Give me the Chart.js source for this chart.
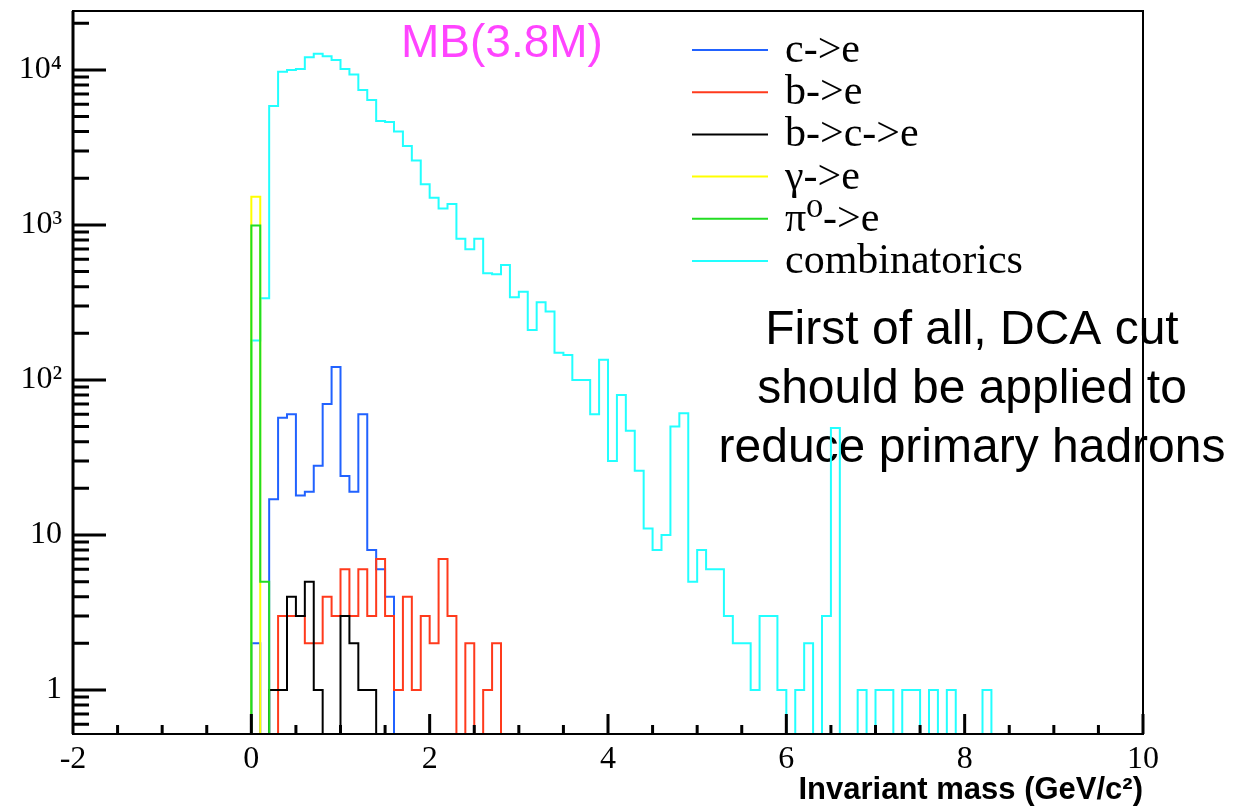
<!DOCTYPE html>
<html>
<head>
<meta charset="utf-8">
<script src="https://cdn.jsdelivr.net/npm/chart.js@4.4.1/dist/chart.umd.min.js"></script>
<style>
  html, body { margin: 0; padding: 0; background: #fff; }
  #wrap { width: 1233px; height: 812px; }
</style>
</head>
<body>
<div id="wrap"><canvas id="chart" width="1233" height="812"></canvas></div>
<script>
// histogram binning: 0.1 GeV/c^2 bins from -2 to 10
const X_MIN = -2;
const X_MAX = 10;
const BIN_WIDTH = 0.1;
const FIRST_FILLED = 0; // arrays below start at the 0 GeV/c^2 bin, lower bins are empty
const Y_MIN = 0.52;
const Y_MAX = 24000;

// bin contents
const charmToE = [2, 0, 17, 57, 60, 18, 19, 28, 70, 121, 24, 19, 60, 8, 6, 4];
const bottomToE = [0, 0, 0, 3, 3, 3, 2, 2, 4, 3, 6, 3, 6, 3, 7, 3, 1, 4, 1, 3, 2, 7, 3, 0, 2, 0, 1, 2];
const bottomToCharmToE = [0, 0, 1, 1, 4, 3, 5, 1, 0, 0, 3, 2, 1, 1];
const gammaToE = [1520];
const pi0ToE = [990, 5];
const combinatorics = [
  180, 337, 5860, 9750, 10000, 10150, 12070, 12740, 12250, 11600,
  10150, 9330, 7430, 6400, 4690, 4620, 4000, 3235, 2600, 1830,
  1500, 1275, 1365, 816, 697, 816, 488, 481, 552, 341,
  371, 210, 317, 276, 150, 145, 100, 100, 60, 135,
  30, 80, 47, 26, 11, 8, 10, 50, 61, 5,
  8, 6, 6, 3, 2, 2, 1, 3, 3, 1,
  0, 1, 2, 0, 3, 49, 0, 0, 1, 0,
  1, 1, 0, 1, 1, 0, 1, 0, 1, 0,
  0, 0, 1
];

const SERIES_LABELS = ["c->e", "b->e", "b->c->e", "\u03b3->e", "\u03c0\u2070->e", "combinatorics"];
const SERIES_COLORS = ["#2162ff", "#ff3a1c", "#000000", "#ffff00", "#22dd22", "#22ffff"];

const X_TICK_VALUES = [-2, 0, 2, 4, 6, 8, 10];
const X_TICK_LABELS = ["-2", "0", "2", "4", "6", "8", "10"];
const Y_TICK_VALUES = [1, 10, 100, 1000, 10000];
const Y_TICK_LABELS = ["1", "10", "10\u00b2", "10\u00b3", "10\u2074"];

const X_TITLE = "Invariant mass (GeV/c\u00b2)";
const SAMPLE_LABEL = "MB(3.8M)";
const NOTE_LINES = ["First of all, DCA cut", "should be applied to", "reduce primary hadrons"];

function histPoints(values) {
  const n = Math.round((X_MAX - X_MIN) / BIN_WIDTH);
  const first = Math.round((FIRST_FILLED - X_MIN) / BIN_WIDTH);
  const pts = [];
  for (let i = 0; i <= n; i++) {
    const k = Math.min(i, n - 1) - first;
    const v = k >= 0 && k < values.length ? values[k] : 0;
    // empty bins sit on the lower frame, like ROOT draws them
    pts.push({ x: +(X_MIN + i * BIN_WIDTH).toFixed(2), y: v > 0 ? v : Y_MIN });
  }
  return pts;
}

const seriesValues = [charmToE, bottomToE, bottomToCharmToE, gammaToE, pi0ToE, combinatorics];
const drawOrder = [4, 3, 2, 1, 0, 5];

const frameTicks = {
  id: "frameTicks",
  afterDatasetsDraw(chart) {
    const { ctx, chartArea: a, scales: { x, y } } = chart;
    ctx.save();
    ctx.strokeStyle = "#000";
    ctx.lineWidth = 2;
    ctx.strokeRect(a.left, a.top, a.right - a.left, a.bottom - a.top);
    ctx.lineWidth = 3;
    ctx.beginPath();
    ctx.moveTo(a.left, a.top);
    ctx.lineTo(a.left, a.bottom);
    x.ticks.forEach(t => {
      const px = x.getPixelForValue(t.value);
      const len = X_TICK_VALUES.includes(t.value) ? 20 : 9;
      ctx.moveTo(px, a.bottom);
      ctx.lineTo(px, a.bottom - len);
    });
    y.ticks.forEach(t => {
      const py = y.getPixelForValue(t.value);
      const len = Y_TICK_VALUES.includes(t.value) ? 33 : 16;
      ctx.moveTo(a.left, py);
      ctx.lineTo(a.left + len, py);
    });
    ctx.stroke();
    ctx.restore();
  }
};

const annotations = {
  id: "annotations",
  beforeDatasetsDraw(chart) {
    const ctx = chart.ctx;
    ctx.save();
    ctx.fillStyle = "#000";
    ctx.font = "48px 'Liberation Sans'";
    ctx.textAlign = "center";
    ctx.textBaseline = "alphabetic";
    NOTE_LINES.forEach((line, i) => ctx.fillText(line, 972, 344 + i * 59));
    ctx.restore();
  },
  afterDraw(chart) {
    const ctx = chart.ctx;
    ctx.save();
    ctx.fillStyle = "#ff44ff";
    ctx.font = "46px 'Liberation Sans'";
    ctx.textAlign = "left";
    ctx.textBaseline = "alphabetic";
    ctx.fillText(SAMPLE_LABEL, 401, 57);

    // legend
    ctx.font = "42px 'Liberation Serif', 'DejaVu Serif'";
    ctx.lineWidth = 2;
    chart.data.datasets.forEach((ds, i) => {
      const ly = 50 + i * 42.2;
      ctx.strokeStyle = ds.borderColor;
      ctx.beginPath();
      ctx.moveTo(692, ly);
      ctx.lineTo(768, ly);
      ctx.stroke();
      ctx.fillStyle = "#000";
      ctx.fillText(ds.label, 785, ly + 12);
    });
    ctx.restore();
  }
};

new Chart(document.getElementById("chart"), {
  type: "line",
  data: {
    datasets: seriesValues.map((vals, i) => ({
      label: SERIES_LABELS[i],
      data: histPoints(vals),
      borderColor: SERIES_COLORS[i],
      borderWidth: 2,
      pointRadius: 0,
      stepped: "before",
      fill: false,
      order: drawOrder[i],
      clip: 4,
    })),
  },
  options: {
    responsive: false,
    animation: false,
    events: [],
    layout: { padding: { left: 0, top: 11, right: 90, bottom: 0 } },
    plugins: {
      legend: { display: false },
      tooltip: { enabled: false },
    },
    scales: {
      x: {
        type: "linear",
        min: X_MIN,
        max: X_MAX,
        grid: { display: false, drawTicks: false },
        border: { display: false },
        afterFit: s => {
          s.height = 78;
          s.paddingLeft = 0;
          s.paddingRight = 0;
        },
        ticks: {
          stepSize: 0.5,
          autoSkip: false,
          maxRotation: 0,
          padding: 6,
          color: "#000",
          font: { family: "Liberation Serif", size: 32 },
          callback: v => {
            const k = X_TICK_VALUES.indexOf(v);
            return k >= 0 ? X_TICK_LABELS[k] : "";
          },
        },
        title: {
          display: true,
          text: X_TITLE,
          align: "end",
          color: "#000",
          padding: { top: 0, bottom: 3 },
          font: { family: "Liberation Sans", size: 31, weight: "bold" },
        },
      },
      y: {
        type: "logarithmic",
        min: Y_MIN,
        max: Y_MAX,
        grid: { display: false, drawTicks: false },
        border: { display: false },
        afterFit: s => {
          s.width = 73;
          s.paddingTop = 0;
          s.paddingBottom = 0;
        },
        afterBuildTicks: s => {
          const ticks = [];
          for (let e = -1; e <= 4; e++) {
            for (let m = 1; m <= 9; m++) {
              const v = +(m * Math.pow(10, e)).toPrecision(6);
              if (v >= Y_MIN && v <= Y_MAX) ticks.push({ value: v });
            }
          }
          s.ticks = ticks;
        },
        ticks: {
          autoSkip: false,
          padding: 11,
          color: "#000",
          font: { family: "Liberation Serif", size: 32 },
          callback: v => {
            const k = Y_TICK_VALUES.indexOf(v);
            return k >= 0 ? Y_TICK_LABELS[k] : "";
          },
        },
      },
    },
  },
  plugins: [frameTicks, annotations],
});
</script>
</body>
</html>
